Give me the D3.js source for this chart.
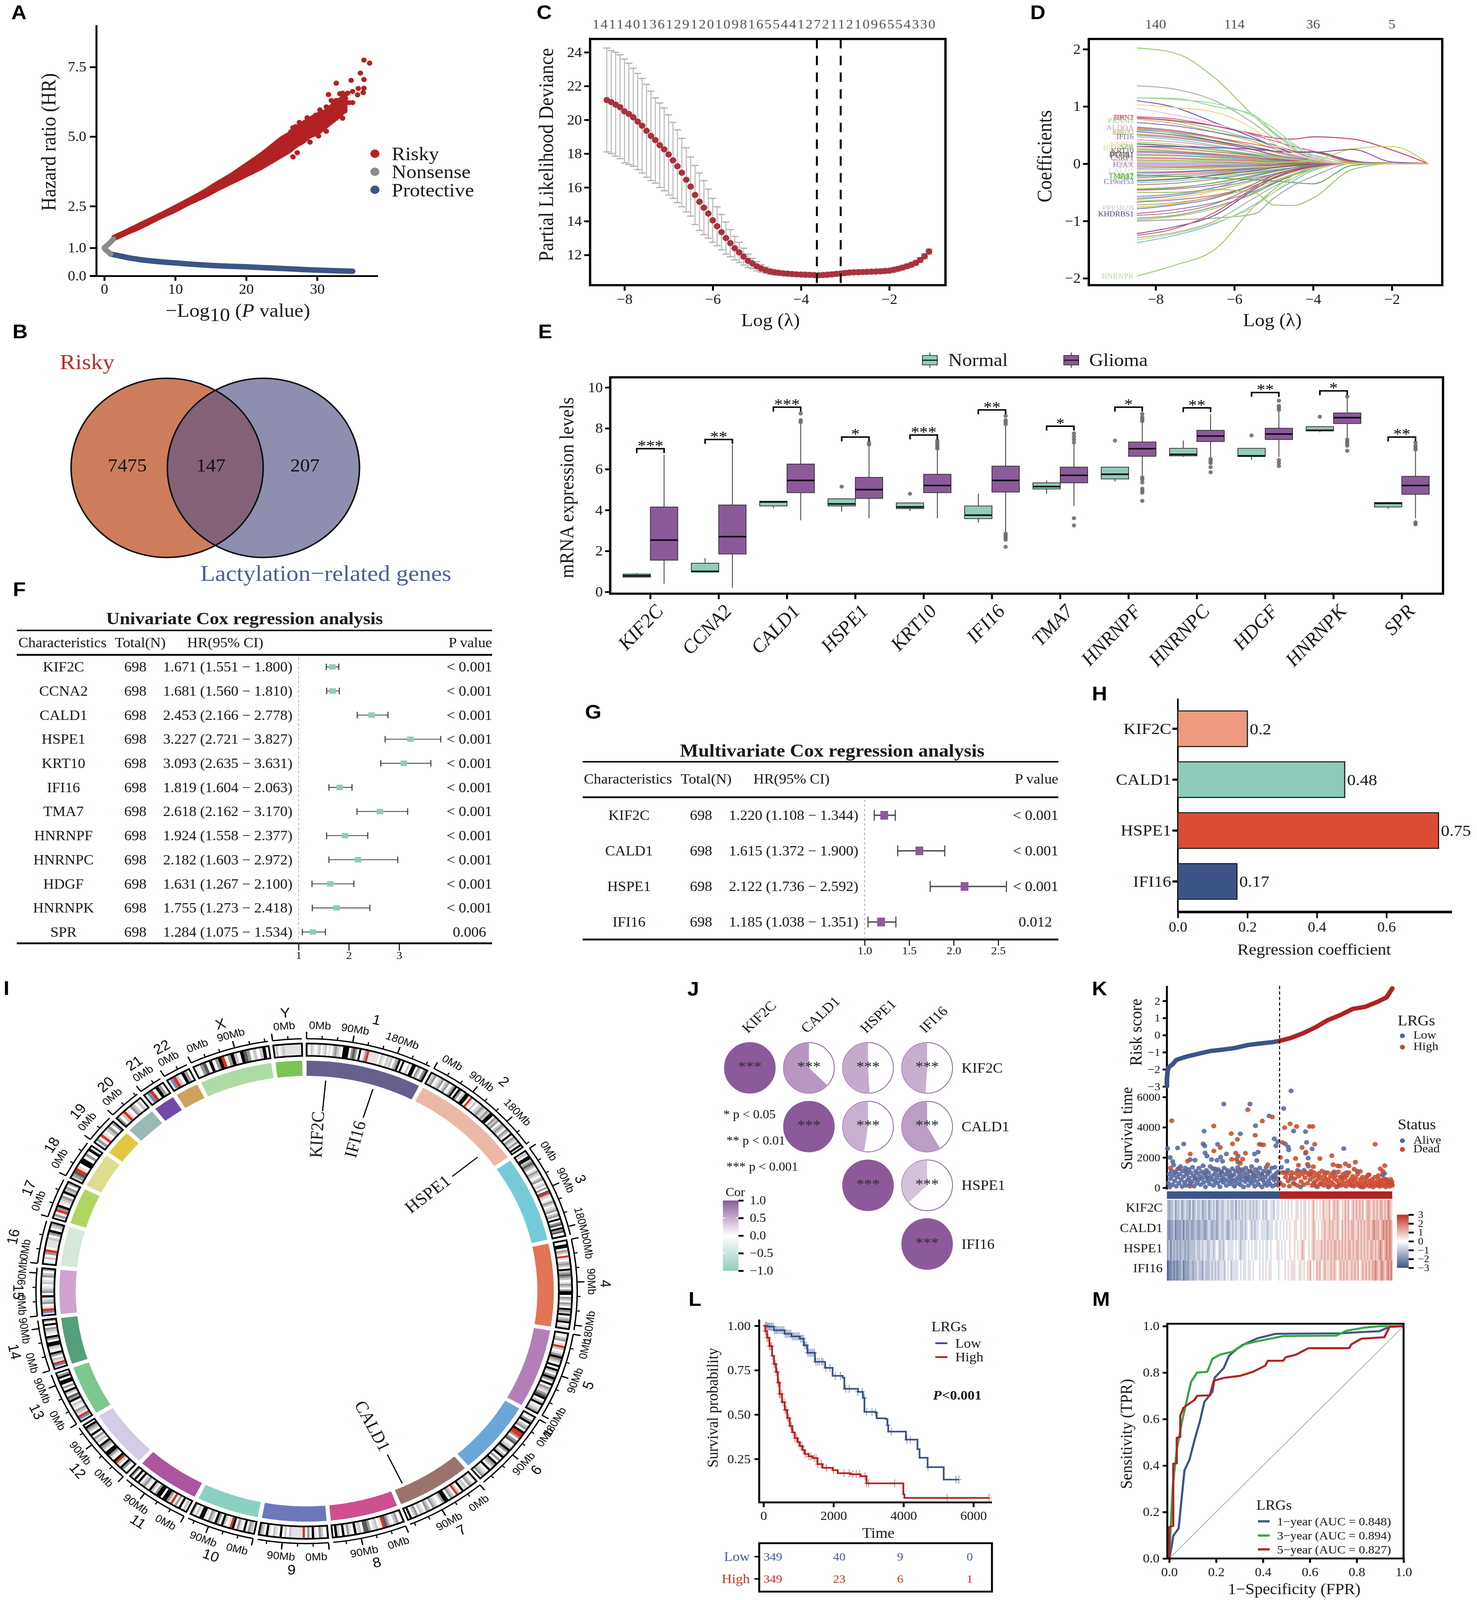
<!DOCTYPE html>
<html><head><meta charset="utf-8">
<script src="https://cdnjs.cloudflare.com/ajax/libs/d3/7.8.5/d3.min.js"></script>
<style>html,body{margin:0;padding:0;background:#fff;width:100%;height:100%;overflow:hidden}text{font-family:"Liberation Serif",serif;fill:#1a1a1a}</style>
</head><body><script>
/* ---------- DATA ---------- */
const riskyX=[1.3,3,5,8,10,12,14,16,18,20,22,24,25,26,27,28,29,30,31,32,33,34];
const riskyLow=[1.3,1.5,1.72,2.1,2.33,2.6,2.83,3.1,3.35,3.6,3.85,4.15,4.3,4.45,4.65,4.8,5.0,5.1,5.3,5.5,5.7,5.95];
const riskyHigh=[1.4,1.6,1.85,2.22,2.48,2.75,3.03,3.35,3.65,4.0,4.35,4.75,4.95,5.1,5.3,5.5,5.65,5.8,5.9,6.1,6.3,6.5];
const riskyOut=[[36.6,7.75],[37.4,7.64],[36.1,7.28],[34.8,7.02],[36.6,7.05],[32.7,6.92],[35.8,6.73],[36.6,6.74],[36.5,6.58],[35.7,6.5],[35,6.62],[34.3,6.56],[33.6,6.56],[33.2,6.54],[31.6,6.51],[35,6.22],[34.5,6.22],[33.6,5.66],[33.9,5.92],[32.7,6.3],[32,6.3],[32.9,5.85],[29.8,5.77],[28.6,5.68],[27.5,5.51],[26.6,5.32],[27,5.36],[26.3,5.17],[30.4,5.96],[31.3,5.19],[30.2,5.02],[30.9,5.62],[32.3,6.15],[31.3,6.07],[33.6,6.07],[34,6.37],[29,4.8],[26.6,4.27],[25.4,4.91],[27.2,4.42]];
const protX=[0.9,2,3.5,5,7.5,10,12.5,15,17.5,20,22.5,25,27.5,30,32.5,35];
const protY=[.78,.72,.64,.58,.51,.46,.41,.37,.34,.32,.29,.26,.23,.2,.18,.16];
const nonsX=[1.3,.7,.2,0,.2,.6,.9];
const nonsY=[1.32,1.16,1.05,1.0,.93,.85,.78];
const legendA=["Risky","Nonsense","Protective"];

const vennLabels=["7475","147","207"];

const cLambda=[-8.4,-8.3,-8.2,-8.1,-8,-7.9,-7.8,-7.7,-7.6,-7.5,-7.4,-7.3,-7.2,-7.1,-7,-6.9,-6.8,-6.7,-6.6,-6.5,-6.4,-6.3,-6.2,-6.1,-6,-5.9,-5.8,-5.7,-5.6,-5.5,-5.4,-5.3,-5.2,-5.1,-5,-4.9,-4.8,-4.7,-4.6,-4.5,-4.4,-4.3,-4.2,-4.1,-4,-3.9,-3.8,-3.7,-3.6,-3.5,-3.4,-3.3,-3.2,-3.1,-3,-2.9,-2.8,-2.7,-2.6,-2.5,-2.4,-2.3,-2.2,-2.1,-2,-1.9,-1.8,-1.7,-1.6,-1.5,-1.4,-1.3,-1.2,-1.1];
const cMean=[21.17,21.05,20.9,20.75,20.5,20.35,20.15,19.9,19.65,19.35,19.05,18.8,18.5,18.25,17.95,17.6,17.25,16.87,16.45,16.05,15.55,15.15,14.8,14.45,14.05,13.7,13.35,13.0,12.7,12.4,12.15,11.9,11.65,11.5,11.33,11.2,11.1,11.02,10.97,10.94,10.91,10.89,10.87,10.85,10.84,10.83,10.82,10.81,10.8,10.81,10.83,10.85,10.88,10.9,10.93,10.96,10.97,10.98,10.99,11.0,11.01,11.02,11.03,11.05,11.07,11.12,11.18,11.25,11.33,11.42,11.53,11.7,11.92,12.2];
const cUpper=[24.25,24.1,24.0,23.85,23.6,23.35,23.05,22.75,22.45,22.1,21.7,21.3,21.0,20.7,20.3,19.85,19.4,18.9,18.35,17.8,17.3,16.85,16.4,15.9,15.35,14.85,14.4,13.95,13.5,13.1,12.75,12.4,12.05,11.8,11.6,11.42,11.28,11.18,11.12,11.08,11.04,11.02,11.0,10.98,10.97,10.96,10.95,10.94,10.93,10.94,10.96,10.98,11.01,11.03,11.06,11.09,11.1,11.11,11.12,11.13,11.14,11.15,11.16,11.18,11.2,11.25,11.31,11.38,11.46,11.55,11.66,11.84,12.07,12.35];
const cLower=[18.1,18.0,17.85,17.7,17.45,17.35,17.25,17.05,16.85,16.6,16.4,16.25,16.0,15.8,15.55,15.35,15.1,14.85,14.55,14.3,13.8,13.45,13.2,13.0,12.75,12.55,12.3,12.05,11.9,11.7,11.55,11.4,11.25,11.2,11.06,10.98,10.92,10.86,10.82,10.8,10.78,10.76,10.74,10.72,10.71,10.7,10.69,10.68,10.67,10.68,10.7,10.72,10.75,10.77,10.8,10.83,10.84,10.85,10.86,10.87,10.88,10.89,10.9,10.92,10.94,10.99,11.05,11.12,11.2,11.29,11.4,11.56,11.77,12.05];
const cTop=["141","140","136","129","120","109","81","65","54","41","27","21","12","10","9","6","5","5","4","3","3","0"];
const cVlines=[-3.64,-3.1];

const dGrid=[-8.475,-7.5,-6.5,-5.5,-5,-4.5,-4,-3,-2,-1.07];
const dTop=["140","114","36","5"], dTopX=[-8,-6,-4,-2];
const dSpecial=[
 {c:"#9ccb6b",v:[2.02,1.93,1.5,.83,.53,.28,.05,0,0,0]},
 {c:"#9ccb6b",v:[-1.96,-1.77,-1.5,-.75,-.45,-.2,-.08,0,0,0]},
 {c:"#c83a7a",v:[.8,.75,.66,.52,.45,.43,.47,.43,.24,0]},
 {c:"#c3d254",v:[.05,.05,.04,.02,.02,.03,.05,.26,.3,0]},
 {c:"#a5bf6a",v:[-.5,-.5,-.45,-.5,-.72,-.73,-.6,-.1,0,0]},
 {c:"#8a4f9e",v:[.3,.3,.28,.25,.22,.2,.2,.25,.03,0]},
 {c:"#5aa85a",v:[-.2,-.22,-.25,-.28,-.3,-.33,-.35,-.03,0,0]},
 {c:"#a0a0a0",v:[-1.0,-.98,-.95,-.88,-.6,-.38,-.22,0,0,0]},
 {c:"#aab3a0",v:[1.36,1.3,1.1,.7,.45,.25,.05,0,0,0]},
 {c:"#9ad4a0",v:[1.15,1.14,1.0,.85,.55,.32,.12,0,0,0]},
 {c:"#a8d8a8",v:[1.15,1.12,1.05,.82,.62,.35,.15,0,0,0]},
 {c:"#7d55a5",v:[1.1,.98,.72,.45,.3,.2,.2,.05,0,0]},
 {c:"#ecd38a",v:[1.03,.98,.9,.6,.35,.2,.08,0,0,0]},
 {c:"#e3c1dc",v:[.97,.85,.7,.48,.3,.15,.1,0,0,0]},
 {c:"#6a5f8f",v:[-1.22,-1.1,-.9,-.45,-.25,-.12,-.05,0,0,0]},
 {c:"#d9507f",v:[-1.25,-1.13,-.85,-.42,-.2,-.1,-.03,0,0,0]},
 {c:"#a9b79a",v:[-1.29,-1.2,-1.0,-.6,-.4,-.25,-.1,0,0,0]},
 {c:"#6fc5d8",v:[-1.38,-1.25,-1.05,-.72,-.5,-.3,-.12,0,0,0]},
 {c:"#d4d48a",v:[-1.33,-1.22,-1.03,-.75,-.5,-.25,-.1,0,0,0]}
];
const dRows=[
[.82,.78,.66,.5,.4,.3,.22,.03,0,0],[.8,.74,.6,.42,.3,.22,.15,.02,0,0],[.78,.7,.55,.38,.26,.16,.08,0,0,0],[.72,.66,.55,.42,.33,.22,.1,0,0,0],
[.64,.58,.46,.3,.22,.14,.06,0,0,0],[.62,.56,.46,.34,.28,.22,.2,.04,0,0],[.6,.53,.4,.24,.16,.1,.04,0,0,0],[.58,.54,.44,.3,.2,.12,.05,0,0,0],
[.56,.5,.4,.28,.22,.2,.21,.05,0,0],[.52,.47,.38,.25,.16,.08,.03,0,0,0],[.5,.45,.36,.24,.15,.1,.06,0,0,0],[.47,.42,.32,.2,.13,.07,.02,0,0,0],
[.42,.38,.3,.2,.14,.09,.04,.01,0,0],[.38,.34,.26,.17,.12,.08,.05,.02,0,0],[.35,.31,.24,.15,.1,.06,.02,0,0,0],[.33,.3,.24,.16,.11,.08,.04,.01,0,0],
[.3,.27,.21,.14,.09,.05,.02,0,0,0],[.27,.25,.2,.13,.1,.07,.03,0,0,0],[.25,.22,.17,.11,.07,.04,.01,0,0,0],[.22,.2,.16,.11,.08,.05,.02,0,0,0],
[.2,.18,.14,.09,.06,.03,.01,0,0,0],[.17,.15,.12,.08,.05,.03,.01,0,0,0],[.15,.14,.11,.07,.05,.03,.01,0,0,0],[.12,.11,.09,.06,.04,.02,.01,0,0,0],
[.1,.09,.07,.05,.03,.02,.01,0,0,0],[.07,.06,.05,.03,.02,.01,0,0,0,0],[.04,.04,.03,.02,.02,.02,.01,.02,.02,.01],[.01,.01,.01,.01,.01,.01,0,0,0,0],
[-.02,-.02,-.02,-.01,-.01,0,0,0,0,0],[-.05,-.05,-.04,-.03,-.02,-.01,0,0,0,0],[-.08,-.07,-.06,-.04,-.03,-.02,-.01,0,0,0],[-.11,-.1,-.08,-.06,-.04,-.02,-.01,0,0,0],
[-.15,-.14,-.11,-.08,-.06,-.04,-.02,0,0,0],[-.18,-.16,-.13,-.09,-.06,-.04,-.02,0,0,0],[-.21,-.19,-.15,-.1,-.07,-.04,-.01,0,0,0],[-.23,-.22,-.18,-.13,-.1,-.07,-.03,0,0,0],
[-.25,-.22,-.17,-.1,-.06,-.03,-.01,0,0,0],[-.28,-.26,-.21,-.15,-.1,-.07,-.04,0,0,0],[-.3,-.27,-.2,-.12,-.07,-.03,-.01,0,0,0],[-.33,-.3,-.24,-.16,-.11,-.07,-.03,0,0,0],
[-.37,-.34,-.27,-.17,-.12,-.07,-.03,0,0,0],[-.43,-.41,-.34,-.22,-.15,-.08,-.04,0,0,0],[-.45,-.42,-.33,-.2,-.13,-.07,-.02,0,0,0],[-.46,-.44,-.37,-.25,-.18,-.1,-.05,0,0,0],
[-.57,-.53,-.42,-.28,-.18,-.1,-.05,0,0,0],[-.6,-.56,-.46,-.3,-.2,-.12,-.05,0,0,0],[-.62,-.56,-.42,-.22,-.14,-.07,-.02,0,0,0],[-.65,-.6,-.48,-.3,-.22,-.13,-.06,0,0,0],
[-.67,-.63,-.55,-.38,-.26,-.14,-.05,0,0,0],[-.72,-.68,-.58,-.42,-.3,-.18,-.08,0,0,0],[-.76,-.7,-.57,-.38,-.25,-.13,-.04,0,0,0],[-.79,-.72,-.6,-.35,-.2,-.1,-.03,0,0,0],
[-.87,-.8,-.68,-.48,-.34,-.2,-.08,0,0,0],[-.9,-.85,-.7,-.4,-.24,-.12,-.04,0,0,0],[-.95,-.9,-.75,-.52,-.35,-.2,-.1,0,0,0],[-.98,-.92,-.78,-.5,-.32,-.18,-.06,0,0,0]
];
const dColors=["#c8446f","#7fbf6a","#d9a03a","#5b6fb0","#8a5fb0","#c0604d","#4a9a8a","#b5b04a","#3f4fa0","#d07f4f","#9a6fa0","#66c2a5","#d48fb5","#9dc85a","#555555","#6fc3d9","#a3765f","#e0c25a","#5e9f5e","#b04f9f","#7a7a9a","#ea9a5a","#48a0c8","#c4d46a"];
const dLabels=[["DBN1",.81,"#d8608f"],["RPN2",.81,"#e0507f"],["PRAM1",.755,"#a5d295"],["ALDOA",.63,"#cf9fcf"],["KIF2C",.545,"#d9c07f"],["HBD2",.55,"#b9c98a"],["IFI16",.474,"#7a6fb0"],["HSPE1",.336,"#eec9a0"],["HNRNPF",.273,"#cfe6a0"],["SPR",.298,"#8fc48f"],["KRT10",.23,"#666666"],["DCHS1",.166,"#8a5a6f"],["PTGR1",.15,"#7a5a4f"],["C1QC",.092,"#e4e6a0"],["CSRP1",.103,"#7a6f9f"],["TMA7",.018,"#eedfe5"],["HDGF",.018,"#e5d5e0"],["H2AX",-.02,"#a08fb0"],["CALD1",-.12,"#e5dcd5"],["TMA17",-.21,"#4aa04a"],["ILF2",-.225,"#6ab55a"],["GLO1",-.23,"#8ac06a"],["C19orf53",-.31,"#7a6fb5"],["PPP1R2B",-.773,"#c8cae8"],["KHDRBS1",-.876,"#4a4aa0"],["HNRNPK",-1.96,"#b7d99a"]];

const genesE=["KIF2C","CCNA2","CALD1","HSPE1","KRT10","IFI16","TMA7","HNRNPF","HNRNPC","HDGF","HNRNPK","SPR"];
const boxNormal=[[.7,.72,.79,.87,.92,[]],[.95,.97,1.0,1.4,1.65,[]],[4.1,4.2,4.4,4.43,4.45,[]],[3.93,4.2,4.3,4.55,4.55,[5.15]],[3.95,4.07,4.15,4.35,4.37,[4.8]],[3.38,3.58,3.75,4.2,4.8,[]],[4.8,5.03,5.15,5.33,5.45,[]],[5.4,5.52,5.75,6.1,6.1,[7.4]],[6.6,6.65,6.72,7.02,7.4,[]],[6.45,6.62,6.65,7.02,7.02,[7.65]],[7.8,7.87,7.9,8.08,8.1,[8.57]],[4.05,4.15,4.33,4.37,4.4,[]]];
const boxGlioma=[[.4,1.55,2.53,4.15,6.7,[]],[.2,1.85,2.7,4.25,7.2,[]],[3.5,4.85,5.45,6.25,8.25,[8.3,8.4,8.72]],[3.6,4.57,5.0,5.6,7.1,[7.2,7.3]],[3.6,4.85,5.2,5.75,6.9,[7,7.1,7.2,7.3,7.4]],[2.95,4.88,5.45,6.15,8.15,[2.2,2.55,2.65,2.75,2.85,8.2,8.3,8.4,8.6]],[4.2,5.33,5.7,6.1,7.2,[3.25,3.6,7.3,7.45,7.6,7.75]],[5.7,6.63,7.0,7.33,8.3,[4.45,4.85,4.95,5.05,5.35,5.5,5.6,8.35,8.45,8.55,8.7]],[6.6,7.35,7.62,7.9,8.7,[5.85,6.1,6.3,6.4,6.5]],[6.6,7.45,7.72,8.0,8.85,[6.15,6.3,6.45,8.9,9.0,9.1,9.35]],[7.5,8.23,8.52,8.75,9.5,[6.9,7.15,7.25,7.35,7.45,9.55]],[3.6,4.77,5.2,5.65,6.85,[3.3,3.4,6.95,7.05,7.15,7.3]]];
const bracketY=[7.0,7.45,9.03,7.57,7.67,8.9,8.1,9.03,9.0,9.75,9.83,7.57];
const bracketStars=["***","**","***","*","***","**","*","*","**","**","*","**"];

const uniNames=["KIF2C","CCNA2","CALD1","HSPE1","KRT10","IFI16","TMA7","HNRNPF","HNRNPC","HDGF","HNRNPK","SPR"];
const uniHR=[1.671,1.681,2.453,3.227,3.093,1.819,2.618,1.924,2.182,1.631,1.755,1.284];
const uniLo=[1.551,1.560,2.166,2.721,2.635,1.604,2.162,1.558,1.603,1.267,1.273,1.075];
const uniHi=[1.800,1.810,2.778,3.827,3.631,2.063,3.170,2.377,2.972,2.100,2.418,1.534];
const uniP=["< 0.001","< 0.001","< 0.001","< 0.001","< 0.001","< 0.001","< 0.001","< 0.001","< 0.001","< 0.001","< 0.001","0.006"];
const multiNames=["KIF2C","CALD1","HSPE1","IFI16"];
const multiHR=[1.220,1.615,2.122,1.185];
const multiLo=[1.108,1.372,1.736,1.038];
const multiHi=[1.344,1.900,2.592,1.351];
const multiP=["< 0.001","< 0.001","< 0.001","0.012"];

const coefNames=["KIF2C","CALD1","HSPE1","IFI16"];
const coefVals=[.2,.48,.75,.17];
const coefColors=["#EE9A7E","#8FCBBA","#DD4C35","#3C5488"];

const chrNames=["1","2","3","4","5","6","7","8","9","10","11","12","13","14","15","16","17","18","19","20","21","22","X","Y"];
const chrLen=[248,242,198,190,181,170,159,145,138,133,135,133,114,107,101,90,83,80,58,64,46,50,156,57];
const chrColor=["#66608E","#EBB8A5","#76CAD8","#E17555","#B47FB9","#6CA5D7","#9A736E","#CE4E8E","#6D78BC","#8BD1C2","#AD559F","#D4CCE4","#7DC68D","#569F7A","#CFA3CE","#D7E8D8","#B0D65F","#DDDD8F","#E0C841","#9AB8B5","#7149A6","#CDA25C","#ADDBA4","#7CC455"];
const chrBands=[
"lwmlwlmwlmwlwmgmlwkkkwgdgwkwlgrlllllwmlwmlmwmgkwkwwmwkkwgmwgd",
"lmgwlmgwmgwlgkwkgwmkkwrlwmwlmgmlgmkkwgmgwmgmwgmwkwgmlgwkw",
"lmwkkmgdgmwlgmlwmgwlmwgwdrmlwlgmwlmgwmgwkwgdwkgdwm",
"lwkkwgmwrlwmgmwkmgdgmwlgmwgkkwgmwgmwkgmkwmgkwlm",
"lwmgwlrmwlgkgmwkwkmwgkgwkwgmlgdkwmkwlmg",
"lwgkwmgwkrrgwgdwlmkgwmkwgwkgmwkwlmgw",
"lwmgwmlkwmrwmgwkkglwlmgwmgwlmwgmwkw",
"lwgmwlgdrlwmlwgddwmlkwlgwkwmkw",
"lwmgwlkwgwrlllllmwmwkwlmwlkwmg",
"lmgwkwlgwkrlwmkwgkwmgwlkkwmwg",
"lmwkwgwrlgkkwkkgwmkwlgmwkwkwg",
"lwgkwmrkwlgkkwmgkwmlgwkwmgkw",
"lbrlmgwlmwkgdwmkwgwkkwkgw",
"lbrlmwgkwlmkkwgkwlmgwkwg",
"lbrlwgmlkwgmlwmlwgmwg",
"lwmwgrwlllmwgkwmg",
"lgwrgkwlmgwkmgwg",
"mgdrlwkkwgwkw",
"lgwrlwmgwg",
"gwmrlwgmwmw",
"lbrwkgw",
"lbrmwkgw",
"lwgdwkwgkrwgkmwkdgwmwmkw",
"lmwlmllllllll"];
const geneMarks=[["KIF2C",-87],["IFI16",-75],["HSPE1",-39],["CALD1",63]];

const corGenes=["KIF2C","CALD1","HSPE1","IFI16"];
const corTriples=[[0,0,1],[0,1,.63],[0,2,.51],[0,3,.49],[1,1,1],[1,2,.475],[1,3,.585],[2,2,1],[2,3,.37],[3,3,1]];
const corLegend=["* p < 0.05","** p < 0.01","*** p < 0.001"];
const corTicks=[1,.5,0,-.5,-1];

const riskLowX=[1,1,2,3,7,19,30,57,96,135,173,212,251,289,328,349];
const riskLowY=[-3,-2.6,-2.35,-2.1,-1.88,-1.7,-1.45,-1.28,-1.1,-.93,-.85,-.75,-.58,-.49,-.41,-.34];
const riskHighX=[349,382,421,460,498,537,576,614,653,680,688,698];
const riskHighY=[-.34,-.18,.1,.45,.87,1.17,1.53,1.65,1.95,2.2,2.43,2.73];
const survAliveTop=[[3,2590],[11,2000],[19,1730],[34,2630],[53,2890],[73,1860],[88,1820],[116,3740],[113,2900],[118,2770],[119,2300],[125,2090],[139,1860],[158,2875],[177,5535],[167,2025],[185,2230],[156,1820],[173,1755],[228,3560],[221,2090],[221,1690],[258,5535],[275,4100],[293,2850],[272,2230],[283,2360],[279,1795],[317,4750],[333,3240],[344,3040],[338,2770],[367,2900],[362,5240],[385,6410],[393,3750],[376,2700],[378,2500],[372,1755],[430,3710],[433,3000],[450,2565],[430,2280],[438,1960],[439,1420],[548,2590],[674,945]];
const survDeadTop=[[16,4430],[73,2230],[65,1755],[146,4080],[146,2430],[166,2660],[200,3580],[204,2900],[219,3200],[214,2295],[201,1875],[216,1875],[235,1890],[228,1620],[244,2280],[251,5160],[274,3470],[296,4415],[287,2875],[300,2835],[327,4680],[313,1525],[352,2000],[358,3000],[365,3970],[382,4225],[402,4050],[399,1930],[408,1485],[442,4050],[452,4050],[419,2660],[458,2875],[431,2360],[436,1550],[454,1390],[474,1930],[511,2120],[515,1525],[529,1445],[536,1420],[553,1580],[564,1445],[584,1690],[580,1230],[599,1080],[645,2875],[675,1460],[661,1255],[669,1080],[626,850],[655,810]];
const survAliveDense=[[5,300],[8,900],[10,50],[12,600],[15,1100],[18,200],[20,800],[22,1500],[25,450],[28,1000],[30,100],[33,700],[35,1250],[38,300],[40,900],[43,1400],[45,550],[48,80],[50,1100],[53,750],[55,350],[58,1300],[60,150],[63,900],[65,500],[68,1200],[70,650],[73,250],[75,1000],[78,400],[80,1350],[83,800],[85,100],[88,600],[90,1100],[93,300],[95,950],[98,500],[100,1300],[103,750],[105,200],[108,1050],[110,600],[113,1450],[115,350],[118,850],[120,50],[123,1150],[125,650],[128,450],[130,1000],[133,250],[135,1400],[138,750],[140,550],[143,1250],[145,150],[148,900],[150,400],[153,1100],[155,650],[158,300],[160,1200],[163,850],[165,60],[168,500],[170,1000],[173,700],[175,350],[178,1300],[180,550],[183,900],[185,150],[188,1150],[190,450],[193,750],[195,1000],[198,250],[200,600],[203,1250],[205,400],[208,850],[210,100],[213,1100],[215,550],[218,300],[220,1350],[223,700],[225,950],[228,200],[230,500],[233,1200],[235,750],[238,50],[240,1000],[243,400],[245,1300],[248,600],[250,850],[253,150],[255,1100],[258,450],[260,700],[263,1400],[265,300],[268,950],[270,550],[273,100],[275,1200],[278,750],[280,400],[283,1000],[285,200],[288,1300],[290,600],[293,850],[295,50],[298,500],[300,1100],[303,300],[305,700],[308,1350],[310,150],[313,900],[315,450],[318,1050],[320,250],[323,650],[325,1300],[328,100],[330,800],[333,500],[335,1350],[338,200],[340,950],[343,600],[345,1050],[348,350],[355,1350],[364,1000],[375,1150],[384,600],[395,250],[405,1150],[414,50],[425,1150],[445,900],[455,300],[466,60],[478,250],[490,1000],[500,50],[518,1050],[530,100],[542,700],[556,1000],[572,150],[590,1100],[603,50],[620,750],[635,250],[655,150],[668,850],[680,550],[690,350]];
const survDeadDense=[[12,1300],[25,1050],[40,1250],[60,1050],[72,100],[88,650],[118,1000],[125,700],[150,1250],[170,1050],[200,800],[225,1150],[245,650],[260,1100],[270,800],[295,900],[312,1050],[335,700],[345,150],[348,300],[352,300],[358,1000],[362,150],[368,700],[372,950],[376,450],[380,100],[385,800],[388,1000],[392,300],[396,600],[400,950],[404,150],[408,750],[412,1050],[416,400],[420,900],[424,200],[428,650],[432,1000],[436,300],[440,850],[444,550],[447,1100],[450,150],[453,700],[456,1000],[459,400],[462,100],[465,800],[468,550],[471,950],[474,250],[477,700],[480,1100],[483,450],[486,150],[489,850],[492,600],[495,300],[498,1000],[501,500],[504,100],[507,750],[510,350],[513,950],[516,200],[519,600],[522,800],[525,50],[528,450],[531,1050],[534,250],[537,700],[540,150],[543,500],[546,900],[549,300],[552,650],[555,100],[558,800],[561,400],[564,1000],[567,200],[570,550],[573,300],[576,750],[579,100],[582,450],[585,650],[588,200],[591,900],[594,350],[597,100],[600,550],[603,250],[606,700],[609,50],[612,400],[615,150],[618,600],[621,300],[624,850],[627,100],[630,450],[633,200],[636,550],[639,50],[642,350],[645,700],[648,150],[651,400],[654,250],[657,550],[660,80],[663,300],[666,450],[669,150],[672,600],[675,250],[678,50],[681,500],[684,200],[687,350],[690,100],[693,550],[696,250],[697,400],[698,150]];
const heatGenes=["KIF2C","CALD1","HSPE1","IFI16"];
const heatRows=[
"3233423342343324234334233423434234334434334243434344343434453434544354454545654556456564565675656576667567676566767567676767567766767677676876",
"2122312223132232233223322343233234334323434344334345434344544443444544545456545566556566565676565667667676676576767677667676767767877767878787",
"2313232323323233334334344334434543434544445454344454545445454544545554654545565565656765565676666767676767767676767767677676767677676787678787",
"0112121223122233233433243334343434443545344445454454454555454565445555455545656465566565667565767567666767656767676676767567676767787678767878"];
const heatTicks=[3,2,1,0,-1,-2,-3];

const kmLowT=[0,100,300,606,800,1040,1150,1255,1470,1760,1975,2265,2310,2700,2840,2885,3200,3235,3490,3540,3565,4070,4400,4460,4690,5150,5585];
const kmLowS=[1,.995,.975,.955,.94,.927,.89,.848,.797,.763,.718,.707,.645,.628,.594,.515,.512,.479,.475,.44,.404,.359,.305,.257,.204,.134,.134];
const kmHighT=[0,50,100,170,245,300,360,410,460,530,606,680,750,820,895,970,1040,1110,1183,1290,1400,1545,1688,1977,2121,2482,2770,2944,3997,4026,4213,6450];
const kmHighS=[1,.97,.933,.885,.831,.785,.74,.68,.616,.57,.526,.48,.436,.4,.368,.345,.323,.3,.278,.265,.255,.221,.2,.187,.17,.164,.153,.113,.051,.031,.031,.031];
const kmCensLow=[60,90,120,150,180,210,240,280,310,350,380,420,460,500,540,580,620,660,700,740,780,820,860,900,940,980,1020,1060,1100,1140,1180,1220,1260,1300,1340,1380,1420,1460,1500,1550,1600,1660,1700,1780,1900,2050,2200,2350,2450,2700,2820,2880,2950,3100,3200,3560,3650,4100,4200,4700,5500,5585];
const kmCensHigh=[50,100,130,170,200,230,260,300,330,360,390,420,440,460,480,520,550,590,620,650,700,730,770,800,850,900,950,1000,1050,1100,1150,1200,1300,1350,1450,1500,1550,1650,1800,2000,2300,2450,2550,2650,2750,2900,2950,3000,3750,5250,6450];
const riskTableLow=["349","40","9","0"];
const riskTableHigh=["349","23","6","1"];

const roc1F=[0,.01,.017,.04,.054,.065,.086,.108,.13,.15,.184,.194,.233,.255,.29,.324,.378,.454,.734,.778,.896,.94,1];
const roc1T=[0,.05,.097,.13,.27,.38,.424,.51,.588,.674,.717,.778,.82,.872,.903,.924,.948,.967,.969,.972,.978,.997,1];
const roc3F=[0,.004,.015,.032,.054,.08,.093,.119,.162,.184,.216,.27,.313,.367,.486,.713,.756,.83,.9,1];
const roc3T=[0,.088,.312,.467,.588,.704,.76,.8,.803,.859,.877,.89,.92,.933,.957,.959,.98,.993,1,1];
const roc5F=[0,0,.017,.017,.032,.032,.047,.047,.06,.108,.119,.173,.19,.238,.302,.356,.41,.421,.486,.497,.54,.594,.767,.778,.82,.918,.94,1];
const roc5T=[0,.135,.14,.407,.41,.519,.523,.614,.648,.683,.7,.702,.765,.778,.786,.803,.83,.851,.851,.866,.877,.905,.905,.922,.946,.952,.997,1];
const rocLabels=["1−year (AUC = 0.848)","3−year (AUC = 0.894)","5−year (AUC = 0.827)"];

/* ---------- HELPERS ---------- */
const svg=d3.select("body").append("svg").attr("viewBox","0 0 3782 4393").attr("preserveAspectRatio","none").style("display","block").style("width","100vw").style("height","100vh");
svg.append("rect").attr("width",3782).attr("height",4393).attr("fill","#fff");
const SER='"Liberation Serif",serif', SAN='"Liberation Sans",sans-serif';
const BLUE="#3C5488", RED="#B22222";
function T(x,y,s,o={}){
  const t=svg.append("text").attr("x",x).attr("y",y).text(s)
   .style("font-size",(o.size||40)+"px").style("font-family",o.font||SER)
   .style("fill",o.fill||"#1a1a1a").attr("text-anchor",o.anchor||"start");
  if(o.weight)t.style("font-weight",o.weight);
  if(o.italic)t.style("font-style","italic");
  if(o.mid)t.attr("dominant-baseline","central");
  if(o.rot!=null)t.attr("transform",`rotate(${o.rot} ${x} ${y})`);
  return t;
}
function L(x1,y1,x2,y2,w=4,c="#000",dash){
  const l=svg.append("line").attr("x1",x1).attr("y1",y1).attr("x2",x2).attr("y2",y2).attr("stroke",c).attr("stroke-width",w);
  if(dash)l.attr("stroke-dasharray",dash);return l;
}
function Axis(gen,scale,tx,ty,vals,fmt,o={}){
  const a=gen(scale).tickValues(vals).tickFormat(fmt).tickSize(o.len||13).tickPadding(o.pad||9);
  const g=svg.append("g").attr("transform",`translate(${tx},${ty})`).call(a);
  g.select(".domain").remove();
  g.selectAll("line").attr("stroke",o.color||"#000").attr("stroke-width",o.w||5);
  g.selectAll("text").style("font-size",(o.size||36)+"px").style("font-family",SER).style("fill",o.fill||"#1a1a1a");
  return g;
}
function Frame(x,y,w,h,sw=5){svg.append("rect").attr("x",x).attr("y",y).attr("width",w).attr("height",h).attr("fill","none").attr("stroke","#000").attr("stroke-width",sw);}
[["A",29,53],["B",32,929],["C",1374,53],["D",2638,53],["E",1378,929],["F",33,1637],["G",1498,1973],["H",2796,1923],["I",9,2732],["J",1760,2734],["K",2796,2733],["L",1763,3585],["M",2797,3585]]
 .forEach(d=>T(d[1],d[2],d[0],{size:54,font:SAN,weight:"bold",fill:"#000"}));

/* ---------- A ---------- */
(function(){
 const x=d3.scaleLinear([0,30],[267,812]), y=d3.scaleLinear([0,7.5],[757,184]);
 L(247,69,247,760,5); L(230,758,968,758,5);
 Axis(d3.axisBottom,x,0,758,[0,10,20,30],d3.format("d"),{size:38});
 Axis(d3.axisLeft,y,247,0,[0,1,2.5,5,7.5],d3.format(".1f"),{size:38,len:17});
 const area=d3.area().x((d,i)=>x(riskyX[i])).y0((d,i)=>y(riskyLow[i])).y1((d,i)=>y(riskyHigh[i])).curve(d3.curveMonotoneX);
 svg.append("path").attr("d",area(riskyX)).attr("fill",RED).attr("stroke",RED).attr("stroke-width",10).attr("stroke-linejoin","round");
 svg.selectAll(null).data(riskyOut).enter().append("circle").attr("cx",d=>x(d[0])).attr("cy",d=>y(d[1])).attr("r",7).attr("fill",RED);
 const ln=d3.line().x(d=>x(d[0])).y(d=>y(d[1])).curve(d3.curveCatmullRom);
 svg.append("path").attr("d",ln(protX.map((v,i)=>[v,protY[i]]))).attr("fill","none").attr("stroke",BLUE).attr("stroke-width",15).attr("stroke-linecap","round");
 svg.append("path").attr("d",ln(nonsX.map((v,i)=>[v,nonsY[i]]))).attr("fill","none").attr("stroke","#8B8B8B").attr("stroke-width",14).attr("stroke-linecap","round");
 [RED,"#8B8B8B",BLUE].forEach((c,i)=>{
  svg.append("circle").attr("cx",960).attr("cy",422+i*49.5).attr("r",11.5).attr("fill",c);
  T(1003,422+i*50,legendA[i],{size:52,mid:true});
 });
 T(124,390,"Hazard ratio (HR)",{size:52,anchor:"middle",rot:-90,mid:true});
 const t=T(609,870,"",{size:52,anchor:"middle"});
 t.append("tspan").text("−Log");t.append("tspan").text("10").attr("dy",12);
 t.append("tspan").text(" (").attr("dy",-12);t.append("tspan").text("P").style("font-style","italic");t.append("tspan").text(" value)");
})();

/* ---------- B ---------- */
(function(){
 const cs=[[428,"#CE7D5C"],[674.5,"#8E8FAF"]];
 const defs=svg.append("defs");
 defs.append("clipPath").attr("id","vl").append("circle").attr("cx",428).attr("cy",1284.5).attr("r",246);
 cs.forEach(c=>svg.append("circle").attr("cx",c[0]).attr("cy",1284.5).attr("r",246).attr("fill",c[1]));
 svg.append("circle").attr("cx",674.5).attr("cy",1284.5).attr("r",246).attr("fill","#836177").attr("clip-path","url(#vl)");
 cs.forEach(c=>svg.append("circle").attr("cx",c[0]).attr("cy",1284.5).attr("r",246).attr("fill","none").attr("stroke","#111").attr("stroke-width",4));
 [326,540,781].forEach((xx,i)=>T(xx,1277,vennLabels[i],{size:50,anchor:"middle",mid:true,fill:"#111"}));
 T(153,1014,"Risky",{size:60,fill:"#B5302A"});
 T(513,1595,"Lactylation−related genes",{size:62,fill:"#4A5F9C"});
})();

/* ---------- C ---------- */
(function(){
 const x=d3.scaleLinear([-8,-2],[1599,2277]), y=d3.scaleLinear([12,24],[700,143.5]);
 Frame(1511,107,910,676,6);
 Axis(d3.axisBottom,x,0,783,[-8,-6,-4,-2],d3.format("d"),{size:38,len:15});
 Axis(d3.axisLeft,y,1511,0,[12,14,16,18,20,22,24],d3.format("d"),{size:38,len:15,pad:6});
 const g=svg.append("g").selectAll("g").data(cLambda).enter().append("g");
 g.append("line").attr("x1",d=>x(d)).attr("x2",d=>x(d)).attr("y1",(d,i)=>y(cUpper[i])).attr("y2",(d,i)=>y(cLower[i])).attr("stroke","#b5b5b5").attr("stroke-width",2.5);
 [cUpper,cLower].forEach(a=>g.append("line").attr("x1",d=>x(d)-9).attr("x2",d=>x(d)+9).attr("y1",(d,i)=>y(a[i])).attr("y2",(d,i)=>y(a[i])).attr("stroke","#b5b5b5").attr("stroke-width",3.5));
 svg.selectAll(null).data(cLambda).enter().append("circle").attr("cx",d=>x(d)).attr("cy",(d,i)=>y(cMean[i])).attr("r",8.5).attr("fill","#A9323F");
 cVlines.forEach(v=>L(x(v),107,x(v),783,5,"#000","26 20"));
 T(1517,66,cTop.join(""),{size:36,mid:true,fill:"#555"}).attr("textLength",878).attr("lengthAdjust","spacing");
 T(1398,425,"Partial Likelihood Deviance",{size:52,anchor:"middle",rot:-90,mid:true});
 T(1973,878,"Log (λ)",{size:50,anchor:"middle",mid:true});
})();

/* ---------- D ---------- */
(function(){
 const x=d3.scaleLinear([-8,-2],[2959,3564]), y=d3.scaleLinear([-2,2],[764,135]);
 Frame(2788,107,905,676,6);
 Axis(d3.axisBottom,x,0,783,[-8,-6,-4,-2],d3.format("d"),{size:38,len:15});
 Axis(d3.axisLeft,y,2788,0,[-2,-1,0,1,2],d3.format("d"),{size:38,len:15,pad:6});
 const ln=d3.line().x((d,i)=>x(dGrid[i])).y(d=>y(d)).curve(d3.curveMonotoneX);
 svg.selectAll(null).data(dRows).enter().append("path").attr("d",d=>ln(d)).attr("fill","none").attr("stroke",(d,i)=>dColors[i%dColors.length]).attr("stroke-width",2.4).attr("opacity",.9);
 svg.selectAll(null).data(dSpecial).enter().append("path").attr("d",d=>ln(d.v)).attr("fill","none").attr("stroke",d=>d.c).attr("stroke-width",2.6);
 dLabels.forEach(d=>T(2903,y(d[1]),d[0],{size:20,anchor:"end",mid:true,fill:d[2]}));
 dTop.forEach((s,i)=>T(x(dTopX[i]),66,s,{size:36,anchor:"middle",mid:true,fill:"#555"}));
 T(2674,429,"Coefficients",{size:52,anchor:"middle",rot:-90,mid:true});
 T(3258,878,"Log (λ)",{size:50,anchor:"middle",mid:true});
})();

/* ---------- E ---------- */
(function(){
 const x=d3.scaleBand(genesE,[1578,3677]).paddingInner(0).paddingOuter(0);
 const y=d3.scaleLinear([0,10],[1625,1063.6]);
 Frame(1562.5,1036,2132.5,594,6);
 const bx=Axis(d3.axisBottom,x,0,1630,genesE,d=>d,{size:52,len:15});
 bx.selectAll("text").attr("text-anchor","end").attr("x",0).attr("y",0).attr("dy",0).attr("transform","translate(36,50) rotate(-48)").style("font-style","italic");
 Axis(d3.axisLeft,y,1562.5,0,[0,2,4,6,8,10],d3.format("d"),{size:38,len:13,pad:6});
 function box(arr,gi,fill){
  arr.forEach((b,i)=>{
   const cx=x(genesE[i])+x.bandwidth()/2+(gi?35:-35), w=70;
   L(cx,y(b[0]),cx,y(b[4]),2,"#333");
   svg.append("rect").attr("x",cx-w/2).attr("y",y(b[3])).attr("width",w).attr("height",y(b[1])-y(b[3])).attr("fill",fill).attr("stroke","#333").attr("stroke-width",2);
   L(cx-w/2,y(b[2]),cx+w/2,y(b[2]),4.5,"#111");
   svg.selectAll(null).data(b[5]).enter().append("circle").attr("cx",cx).attr("cy",d=>y(d)).attr("r",5.5).attr("fill","#6a6560").attr("opacity",.85);
  });
 }
 box(boxNormal,0,"#8FCDBD"); box(boxGlioma,1,"#8C5A9B");
 genesE.forEach((g,i)=>{
  const c=x(g)+x.bandwidth()/2, yy=y(bracketY[i]);
  svg.append("path").attr("d",`M${c-35},${yy+12}V${yy}H${c+35}V${yy+12}`).attr("fill","none").attr("stroke","#000").attr("stroke-width",4);
  T(c,yy+6,bracketStars[i],{size:44,anchor:"middle",fill:"#111"});
 });
 T(1451,1339,"mRNA expression levels",{size:50,anchor:"middle",rot:-90,mid:true});
 [["Normal",2381,"#8FCDBD",2428],["Glioma",2743,"#8C5A9B",2789]].forEach(d=>{
  L(d[1],968,d[1],1010,2,"#333");
  svg.append("rect").attr("x",d[1]-19).attr("y",976).attr("width",38).attr("height",26).attr("fill",d[2]).attr("stroke","#333").attr("stroke-width",2);
  L(d[1]-19,989,d[1]+19,989,3,"#111");
  T(d[3],988,d[0],{size:50,mid:true});
 });
})();

/* ---------- F / G forest ---------- */
function forest(c){
 T(c.titleX,c.titleY,c.title,{size:c.titleSize,weight:"bold",anchor:"middle"});
 L(c.x0,c.top,c.x1,c.top,4); L(c.x0,c.head,c.x1,c.head,5); L(c.x0,c.bot,c.x1,c.bot,5);
 T(c.colHead[0],c.headY,"Characteristics",{size:c.fs});T(c.colHead[1],c.headY,"Total(N)",{size:c.fs});T(c.colHead[2],c.headY,"HR(95% CI)",{size:c.fs});T(c.x1,c.headY,"P value",{size:c.fs,anchor:"end"});
 const y=d3.scalePoint(c.names,[c.y0,c.y1]), x=c.x;
 L(x(1),c.head+6,x(1),c.bot,2,"#aaa","7 6");
 c.names.forEach((n,i)=>{
  const yy=y(n);
  T(c.cName,yy,n,{size:c.fs,anchor:"middle",mid:true});
  T(c.cN,yy,"698",{size:c.fs,anchor:"middle",mid:true});
  T(c.cHR,yy,`${c.hr[i].toFixed(3)} (${c.lo[i].toFixed(3)} − ${c.hi[i].toFixed(3)})`,{size:c.fs,anchor:"end",mid:true});
  if(c.p[i].startsWith("<"))T(c.x1,yy,c.p[i],{size:c.fs,anchor:"end",mid:true});else T(c.cP,yy,c.p[i],{size:c.fs,anchor:"middle",mid:true});
  L(x(c.lo[i]),yy,x(c.hi[i]),yy,c.ciW,"#555");
  L(x(c.lo[i]),yy-c.cap,x(c.lo[i]),yy+c.cap,2.5,"#333");L(x(c.hi[i]),yy-c.cap,x(c.hi[i]),yy+c.cap,2.5,"#333");
  svg.append("rect").attr("x",x(c.hr[i])-c.sq[0]/2).attr("y",yy-c.sq[1]/2).attr("width",c.sq[0]).attr("height",c.sq[1]).attr("fill",c.color);
 });
 Axis(d3.axisBottom,x,0,c.bot,c.ticks,c.fmt,{size:c.tickSize,len:c.tickLen,w:2.5,pad:2});
}
forest({title:"Univariate Cox regression analysis",titleX:626,titleY:1714,titleSize:48,x0:43,x1:1260,top:1731,head:1798,bot:2590,headY:1777,
 colHead:[47,294,479],fs:38,names:uniNames,y0:1831,y1:2559,cName:162.5,cN:346.5,cHR:749,cP:1202,hr:uniHR,lo:uniLo,hi:uniHi,p:uniP,
 x:d3.scaleLinear([1,3],[764.5,1022]),ticks:[1,2,3],fmt:d3.format("d"),tickSize:30,tickLen:20,ciW:2.5,cap:9,sq:[17,15],color:"#8FCDBD"});
forest({title:"Multivariate Cox regression analysis",titleX:2131,titleY:2077,titleSize:50,x0:1492,x1:2710,top:2091.5,head:2189,bot:2579.5,headY:2152,
 colHead:[1495,1743,1929],fs:38,names:multiNames,y0:2238.5,y1:2531.5,cName:1610.6,cN:1795,cHR:2198,cP:2651,hr:multiHR,lo:multiLo,hi:multiHi,p:multiP,
 x:d3.scaleLinear([1,2.5],[2214,2556]),ticks:[1,1.5,2,2.5],fmt:d3.format(".1f"),tickSize:30,tickLen:17,ciW:4,cap:15,sq:[20,24],color:"#8C5A9B"});

/* ---------- H ---------- */
(function(){
 const x=d3.scaleLinear([0,.6],[3016,3550]), y=d3.scaleBand(coefNames,[1931,2490]).paddingInner(.3).paddingOuter(.15);
 L(3016,1918,3016,2504,4); L(3016,2504,3718,2504,7);
 Axis(d3.axisBottom,x,0,2504,[0,.2,.4,.6],d3.format(".1f"),{size:38,len:17,w:4,pad:10});
 Axis(d3.axisLeft,y,3016,0,coefNames,d=>d,{size:44,len:14,w:6,pad:3});
 svg.selectAll(null).data(coefVals).enter().append("rect").attr("x",3016).attr("y",(d,i)=>y(coefNames[i])).attr("height",y.bandwidth()).attr("width",d=>x(d)-3016).attr("fill",(d,i)=>coefColors[i]).attr("stroke","#222").attr("stroke-width",3);
 coefVals.forEach((v,i)=>T(x(v)+6,y(coefNames[i])+y.bandwidth()/2,String(v),{size:44,mid:true}));
 T(3365,2606,"Regression coefficient",{size:44,anchor:"middle",mid:true});
})();

/* ---------- I circos ---------- */
(function(){
 const cx=785, cy=3545;
 const total=d3.sum(chrLen), gap=1*Math.PI/180, k=(2*Math.PI-gap*chrLen.length)/total;
 const g=svg.append("g").attr("transform",`translate(${cx},${cy})`);
 const shade={w:"#ffffff",l:"#e2e2e2",m:"#c6c6c6",g:"#989898",d:"#585858",k:"#000000",r:"#E0301E",b:"#6A8CBE"};
 const pol=(r,a)=>[r*Math.sin(a),-r*Math.cos(a)];
 const rotFor=a=>{let deg=a*180/Math.PI;return (deg>90&&deg<270)?deg-180:deg;};
 let ang=0;
 chrLen.forEach((len,i)=>{
  const s=ang,e=ang+len*k, span=e-s;
  g.append("path").attr("d",d3.arc()({innerRadius:591,outerRadius:633,startAngle:s,endAngle:e})).attr("fill",chrColor[i]);
  const bands=chrBands[i], bw=span/bands.length;
  [...bands].forEach((c,j)=>g.append("path").attr("d",d3.arc()({innerRadius:646,outerRadius:680,startAngle:s+j*bw,endAngle:s+(j+1)*bw+.0005})).attr("fill",shade[c]));
  g.append("path").attr("d",d3.arc()({innerRadius:646,outerRadius:680,startAngle:s,endAngle:e})).attr("fill","none").attr("stroke","#000").attr("stroke-width",4.5);
  g.append("path").attr("d",d3.arc()({innerRadius:693,outerRadius:693,startAngle:s,endAngle:e})).attr("fill","none").attr("stroke","#000").attr("stroke-width",3.5);
  d3.range(0,len,30).forEach(mb=>{
   const a=s+mb*k, major=mb%90===0, p1=pol(693,a), p2=pol(major?712:702,a);
   g.append("line").attr("x1",p1[0]).attr("y1",p1[1]).attr("x2",p2[0]).attr("y2",p2[1]).attr("stroke","#000").attr("stroke-width",major?3.5:3);
   if(major){
    const la=a+(mb===0?2.7*Math.PI/180:0), p=pol(730,la);
    g.append("text").attr("x",p[0]).attr("y",p[1]).text(mb+"Mb").attr("text-anchor","middle").attr("dominant-baseline","central")
     .attr("transform",`rotate(${rotFor(la)} ${p[0]} ${p[1]})`).style("font-family",SAN).style("font-size","29px").style("fill","#111");
   }
  });
  const m=(s+e)/2, pn=pol(chrNames[i]==="15"?738:766,m);
  g.append("text").attr("x",pn[0]).attr("y",pn[1]).text(chrNames[i]).attr("text-anchor","middle").attr("dominant-baseline","central")
   .attr("transform",`rotate(${rotFor(m)} ${pn[0]} ${pn[1]})`).style("font-family",SAN).style("font-size","38px").style("fill","#111");
  ang=e+gap;
 });
 L(834,2967,826,3051,3);L(955,2990,930,3069,3);L(1223,3177,1158,3230,3);L(1030,4073,992,3994,3);
 [[811,3115],[909,3128],[1095,3278],[954,3915]].forEach((p,i)=>T(p[0],p[1],geneMarks[i][0],{size:46,anchor:"middle",mid:true,rot:geneMarks[i][1]}));
})();

/* ---------- J ---------- */
(function(){
 const x=d3.scalePoint(corGenes,[1920,2374]), y=d3.scalePoint(corGenes,[2932,3415.5]);
 const col=d3.scaleLinear([-1,0,1],["#8FCDBD","#ffffff","#8C5A9B"]);
 const arc=d3.arc().innerRadius(0).outerRadius(65);
 corTriples.forEach(t=>{
  const g=svg.append("g").attr("transform",`translate(${x(corGenes[t[1]])},${y(corGenes[t[0]])}) scale(1,1.07)`);
  g.append("circle").attr("r",65).attr("fill","#fff").attr("stroke","#8C5A9B").attr("stroke-width",2);
  g.append("path").attr("d",arc({startAngle:-2*Math.PI*t[2],endAngle:0})).attr("fill",col(t[2]));
  T(x(corGenes[t[1]]),y(corGenes[t[0]])+10,"***",{size:40,anchor:"middle",fill:"#333"});
 });
 corGenes.forEach(n=>{
  T(x(n)-5,2838,n,{size:38,rot:-45});
  T(2462,y(n),n,{size:38,mid:true});
 });
 T(1852,3071,corLegend[0],{size:33});T(1860,3142,corLegend[1],{size:33});T(1860,3214,corLegend[2],{size:33});
 const defs=svg.append("defs"), gr=defs.append("linearGradient").attr("id","corg").attr("x1",0).attr("x2",0).attr("y1",0).attr("y2",1);
 corTicks.forEach((v,i)=>gr.append("stop").attr("offset",i/4).attr("stop-color",col(v)));
 svg.append("rect").attr("x",1851).attr("y",3296).attr("width",40).attr("height",193).attr("fill","url(#corg)");
 const ys=d3.scaleLinear([1,-1],[3296,3489]);
 Axis(d3.axisRight,ys,1891,0,corTicks,d3.format(".1f"),{size:33,len:0,pad:16,w:0});
 corTicks.slice(1,4).forEach(v=>{L(1851,ys(v),1859,ys(v),2,"#fff");L(1883,ys(v),1891,ys(v),2,"#fff");});
 T(1858,3284,"Cor",{size:33});
})();

/* ---------- K ---------- */
(function(){
 const x=d3.scaleLinear([1,698],[2988,3565]);
 const yR=d3.scaleLinear([-3,2],[2983,2748]), yS=d3.scaleLinear([0,6000],[3261,3012]);
 L(2988,2707,2988,2986,5);L(2988,2987,2988,3266,5);
 Axis(d3.axisLeft,yR,2988,0,[-3,-2,-1,0,1,2],d3.format("d"),{size:30,len:11,pad:6});
 Axis(d3.axisLeft,yS,2988,0,[0,2000,4000,6000],d3.format("d"),{size:30,len:11,pad:6});
 const ln2=d3.line().x(d=>x(d[0])).y(d=>yR(d[1]));
 svg.append("path").attr("d",ln2(riskLowX.map((v,i)=>[v,riskLowY[i]]))).attr("fill","none").attr("stroke",BLUE).attr("stroke-width",12).attr("stroke-linecap","round").attr("stroke-linejoin","round");
 svg.append("path").attr("d",ln2(riskHighX.map((v,i)=>[v,riskHighY[i]]))).attr("fill","none").attr("stroke",RED).attr("stroke-width",12).attr("stroke-linecap","round").attr("stroke-linejoin","round");
 const A="#5468A0", D="#CC4A2E";
 const dots=(arr,c)=>svg.selectAll(null).data(arr).enter().append("circle").attr("cx",d=>x(d[0])).attr("cy",d=>yS(d[1])).attr("r",6.5).attr("fill",c).attr("opacity",.88);
 dots(survDeadDense.filter(d=>d[0]<349),D);dots(survAliveDense,A);dots(survDeadDense.filter(d=>d[0]>=349),D);dots(survAliveTop,A);dots(survDeadTop,D);
 L(3276.5,2707,3276.5,3269,2.5,"#000","9 6");
 svg.append("rect").attr("x",x(1)).attr("y",3271).attr("width",x(349)-x(1)).attr("height",20.5).attr("fill",BLUE);
 svg.append("rect").attr("x",x(349)).attr("y",3271).attr("width",x(698)-x(349)).attr("height",20.5).attr("fill",RED);
 const col=d3.scaleLinear([-.5,5,10],[BLUE,"#ffffff","#C0301F"]);
 const yH=d3.scaleBand(heatGenes,[3294,3516]);
 heatGenes.forEach((n,r)=>{
  const row=[...heatRows[r]], cols=d3.scaleBand(d3.range(row.length),[2988,3565]);
  svg.selectAll(null).data(row).enter().append("rect").attr("x",(d,i)=>cols(i)).attr("y",yH(n)).attr("width",cols.bandwidth()+.4).attr("height",yH.bandwidth()).attr("fill",d=>col(+d));
  T(2977,yH(n)+yH.bandwidth()/2-6,n,{size:34,anchor:"end",mid:true});
 });
 const defs=svg.append("defs"), gr=defs.append("linearGradient").attr("id","hmg").attr("x1",0).attr("x2",0).attr("y1",0).attr("y2",1);
 gr.append("stop").attr("offset",0).attr("stop-color","#C0301F");gr.append("stop").attr("offset",.5).attr("stop-color","#fff");gr.append("stop").attr("offset",1).attr("stop-color",BLUE);
 svg.append("rect").attr("x",3577).attr("y",3335).attr("width",30).attr("height",146).attr("fill","url(#hmg)");
 const yc=d3.scaleLinear([3,-3],[3335,3481]);
 Axis(d3.axisRight,yc,3607,0,heatTicks,d3.format("d"),{size:27,len:0,pad:11,w:0});
 T(3579,2815,"LRGs",{size:40});T(3579,3101,"Status",{size:40});
 [[2844,"Low",A],[2875,"High",D],[3132,"Alive",A],[3156,"Dead",D]].forEach(d=>{
  svg.append("circle").attr("cx",3591).attr("cy",d[0]).attr("r",6.5).attr("fill",d[2]);
  T(3619,d[0]-3,d[1],{size:32,mid:true});
 });
 T(2908,2834,"Risk score",{size:44,anchor:"middle",rot:-90,mid:true});
 T(2885,3098,"Survival time",{size:42,anchor:"middle",rot:-90,mid:true});
})();

/* ---------- L ---------- */
(function(){
 const x=d3.scaleLinear([0,6000],[1955,2492.6]), y=d3.scaleLinear([.25,1],[4005.8,3640]);
 L(1944,3623,1944,4127,5);L(1942,4125,2540,4125,5);
 Axis(d3.axisBottom,x,0,4125,[0,2000,4000,6000],d3.format("d"),{size:34,len:13,pad:11});
 Axis(d3.axisLeft,y,1944,0,[.25,.5,.75,1],d3.format(".2f"),{size:34,len:12,pad:10});
 const stp=d3.line().x(d=>x(d[0])).y(d=>y(d[1])).curve(d3.curveStepAfter);
 const S=(T_,S_,t)=>S_[Math.max(0,d3.bisectRight(T_,t)-1)];
 [[kmLowT,kmLowS,kmCensLow,"#3C5488"],[kmHighT,kmHighS,kmCensHigh,RED]].forEach(c=>{
  svg.append("path").attr("d",stp(c[0].map((t,i)=>[t,c[1][i]]))).attr("fill","none").attr("stroke",c[3]).attr("stroke-width",4.5);
  svg.selectAll(null).data(c[2]).enter().append("path").attr("d",t=>{const px=x(t),py=y(S(c[0],c[1],t));return `M${px},${py-11}V${py+11}M${px-7},${py}H${px+7}`;}).attr("stroke",c[3]).attr("stroke-width",1.6).attr("opacity",.75);
 });
 T(2249,4209,"Time",{size:40,anchor:"middle",mid:true});
 T(1825,3865,"Survival probability",{size:41,anchor:"middle",rot:-90,mid:true});
 T(2385,3655,"LRGs",{size:38});
 [["Low",3688,BLUE],["High",3726,RED]].forEach(d=>{L(2395,d[1],2426,d[1],5,d[2]);T(2446,d[1],d[0],{size:36,mid:true});});
 T(2389,3843,"P",{size:36,italic:true,weight:"bold"});T(2412,3843,"<0.001",{size:36,weight:"bold"});
 Frame(1944,4237,596,133,5);
 const yr=d3.scalePoint(["Low","High"],[4274,4335]);
 const pos=[1979,2149,2305,2483];
 [[riskTableLow,"Low","#4A5F9A"],[riskTableHigh,"High","#C0392B"]].forEach(r=>{
  r[0].forEach((s,i)=>T(pos[i],yr(r[1]),s,{size:32,anchor:"middle",mid:true,fill:r[2]}));
  T(1920,yr(r[1]),r[1],{size:36,anchor:"end",mid:true,fill:r[2]});
  L(1932,yr(r[1]),1944,yr(r[1]),4);
 });
})();

/* ---------- M ---------- */
(function(){
 const x=d3.scaleLinear([0,1],[2994,3594]), y=d3.scaleLinear([0,1],[4279,3641]);
 L(2994,4279,3594,3641,1.6,"#999");
 const ln=d3.line().x(d=>x(d[0])).y(d=>y(d[1]));
 const curves=[[roc1F,roc1T,BLUE],[roc3F,roc3T,"#35A843"],[roc5F,roc5T,RED]];
 curves.forEach(c=>svg.append("path").attr("d",ln(c[0].map((f,i)=>[f,c[1][i]]))).attr("fill","none").attr("stroke",c[2]).attr("stroke-width",5.5));
 Frame(2989,3634.5,605,644.5,5);
 Axis(d3.axisBottom,x,0,4279,[0,.2,.4,.6,.8,1],d3.format(".1f"),{size:34,len:12,pad:12});
 Axis(d3.axisLeft,y,2989,0,[0,.2,.4,.6,.8,1],d3.format(".1f"),{size:34,len:12,pad:8});
 T(3217,4145,"LRGs",{size:38});
 rocLabels.forEach((s,i)=>{const yy=[4177,4216,4254][i];L(3221,yy,3251,yy,6,curves[i][2]);T(3270,yy,s,{size:32,mid:true});});
 T(3314,4363,"1−Specificity (FPR)",{size:42,anchor:"middle",mid:true});
 T(2884,3937,"Sensitivity (TPR)",{size:43,anchor:"middle",rot:-90,mid:true});
})();
</script></body></html>
